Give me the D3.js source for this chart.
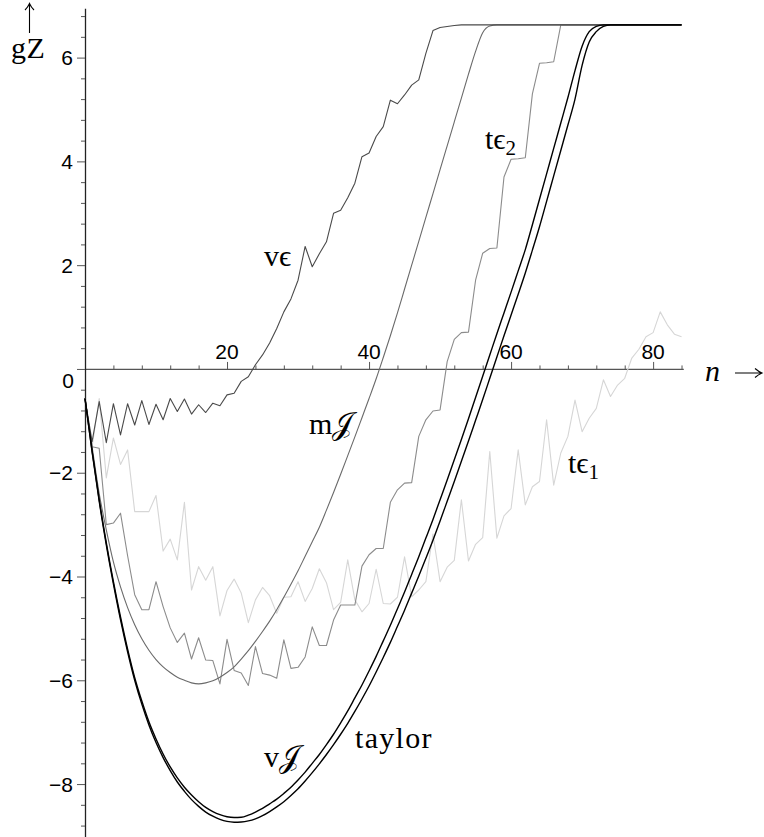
<!DOCTYPE html>
<html>
<head>
<meta charset="utf-8">
<script src="https://cdn.jsdelivr.net/npm/d3@7"></script>
<style>
  html, body { margin: 0; padding: 0; background: #fff; }
  svg { display: block; }
  .tick-label { font-family: "Liberation Sans", Arial, sans-serif; font-size: 21px; fill: #000; }
  .curve-label { font-family: "Liberation Serif", "DejaVu Serif", serif; font-size: 30px; fill: #000; }
</style>
</head>
<body>
<svg id="chart" width="764" height="837"></svg>
<script>
// n = 0, 1, 2, ... 84 for every series
const vEps = [-0.57, -1.40, -0.63, -1.42, -0.67, -1.27, -0.67, -1.08, -0.61, -1.07,
  -0.68, -0.98, -0.57, -0.82, -0.58, -0.87, -0.69, -0.84, -0.66, -0.71,
  -0.50, -0.47, -0.24, -0.15, 0.08, 0.27, 0.50, 0.78, 1.10, 1.35,
  1.71, 2.36, 1.97, 2.22, 2.45, 3.00, 3.06, 3.30, 3.58, 4.09,
  4.16, 4.48, 4.67, 5.18, 5.11, 5.28, 5.47, 5.57, 6.08, 6.52,
  6.58, 6.60, 6.62, 6.63, 6.63, 6.63, 6.63, 6.63, 6.63, 6.63,
  6.63, 6.63, 6.63, 6.63, 6.63, 6.63, 6.63, 6.63, 6.63, 6.63,
  6.63, 6.63, 6.63, 6.63, 6.63, 6.63, 6.63, 6.63, 6.63, 6.63,
  6.63, 6.63, 6.63, 6.63, 6.63];

const tEps2 = [-0.57, -1.50, -1.53, -3.00, -2.97, -2.78, -3.60, -4.35, -4.64, -4.64,
  -4.10, -4.58, -4.99, -5.27, -5.09, -5.59, -5.18, -5.61, -5.62, -6.07,
  -5.21, -5.81, -5.86, -6.10, -5.35, -5.87, -5.90, -5.96, -5.22, -5.77,
  -5.75, -5.55, -4.97, -5.33, -5.33, -4.84, -4.55, -4.55, -4.55, -3.80,
  -3.58, -3.46, -3.46, -2.57, -2.33, -2.20, -2.19, -1.30, -0.98, -0.81,
  -0.79, 0.14, 0.57, 0.70, 0.71, 1.71, 2.23, 2.32, 2.33, 3.70,
  4.04, 4.05, 4.07, 5.30, 5.89, 5.90, 5.92, 6.63, 6.63, 6.63,
  6.63, 6.63, 6.63, 6.63, 6.63, 6.63, 6.63, 6.63, 6.63, 6.63,
  6.63, 6.63, 6.63, 6.63, 6.63];

const tEps1 = [-0.57, -1.50, -0.57, -2.10, -1.33, -1.84, -1.56, -2.75, -2.75, -2.75,
  -2.44, -3.51, -3.28, -3.68, -2.57, -4.26, -3.81, -4.07, -3.81, -4.76,
  -4.27, -4.05, -4.32, -4.89, -4.45, -4.21, -4.37, -4.71, -4.40, -4.39,
  -4.10, -4.48, -4.23, -3.85, -4.12, -4.64, -4.50, -3.68, -4.45, -4.68,
  -4.52, -3.86, -4.52, -4.53, -4.40, -3.62, -4.39, -4.26, -4.10, -3.18,
  -4.10, -3.82, -3.69, -2.52, -3.70, -3.38, -3.25, -1.59, -3.26, -2.83,
  -2.69, -1.56, -2.62, -2.27, -2.17, -0.98, -2.24, -1.62, -1.30, -0.60,
  -1.21, -0.95, -0.76, -0.21, -0.53, -0.31, -0.18, 0.21, 0.38, 0.62,
  0.70, 1.10, 0.85, 0.67, 0.62];

const mJ = [-0.57, -1.50, -2.40, -3.10, -3.72, -4.20, -4.60, -4.93, -5.20, -5.42,
  -5.60, -5.74, -5.85, -5.94, -6.00, -6.05, -6.07, -6.05, -6.01, -5.94,
  -5.85, -5.74, -5.59, -5.43, -5.25, -5.06, -4.86, -4.64, -4.40, -4.15,
  -3.89, -3.61, -3.33, -3.05, -2.72, -2.38, -2.03, -1.67, -1.31, -0.94,
  -0.57, -0.19, 0.22, 0.64, 1.08, 1.54, 2.00, 2.46, 2.92, 3.38,
  3.84, 4.30, 4.76, 5.22, 5.68, 6.12, 6.48, 6.61, 6.63, 6.63,
  6.63, 6.63, 6.63, 6.63, 6.63, 6.63, 6.63, 6.63, 6.63, 6.63,
  6.63, 6.63, 6.63, 6.63, 6.63, 6.63, 6.63, 6.63, 6.63, 6.63,
  6.63, 6.63, 6.63, 6.63, 6.63];

const vJ = [-0.57, -1.58, -2.52, -3.35, -4.10, -4.78, -5.40, -5.95, -6.40, -6.80,
  -7.13, -7.42, -7.67, -7.88, -8.06, -8.21, -8.34, -8.45, -8.53, -8.59,
  -8.63, -8.645, -8.64, -8.60, -8.54, -8.47, -8.38, -8.29, -8.18, -8.06,
  -7.92, -7.77, -7.60, -7.43, -7.24, -7.04, -6.82, -6.59, -6.34, -6.09,
  -5.82, -5.54, -5.24, -4.94, -4.62, -4.30, -3.96, -3.62, -3.26, -2.90,
  -2.52, -2.14, -1.75, -1.36, -0.96, -0.55, -0.14, 0.27, 0.68, 1.08,
  1.48, 1.89, 2.30, 2.78, 3.27, 3.76, 4.25, 4.74, 5.23, 5.75,
  6.22, 6.50, 6.60, 6.63, 6.63, 6.63, 6.63, 6.63, 6.63, 6.63,
  6.63, 6.63, 6.63, 6.63, 6.63];

const taylor = [-0.57, -1.60, -2.55, -3.39, -4.14, -4.83, -5.45, -6.00, -6.46, -6.86,
  -7.20, -7.49, -7.74, -7.96, -8.14, -8.30, -8.43, -8.54, -8.62, -8.68,
  -8.72, -8.735, -8.73, -8.71, -8.67, -8.61, -8.53, -8.44, -8.34, -8.22,
  -8.09, -7.94, -7.78, -7.61, -7.43, -7.24, -7.04, -6.83, -6.60, -6.36,
  -6.11, -5.84, -5.56, -5.27, -4.96, -4.65, -4.32, -3.99, -3.65, -3.30,
  -2.93, -2.55, -2.17, -1.78, -1.39, -0.99, -0.59, -0.18, 0.23, 0.64,
  1.04, 1.44, 1.85, 2.29, 2.74, 3.23, 3.72, 4.21, 4.70, 5.20,
  5.85, 6.30, 6.50, 6.60, 6.63, 6.63, 6.63, 6.63, 6.63, 6.63,
  6.63, 6.63, 6.63, 6.63, 6.63];

const xMajorTicks = [20, 40, 60, 80];
const yMajorTicks = [-8, -6, -4, -2, 0, 2, 4, 6];

const svg = d3.select("#chart");

const x = d3.scaleLinear().domain([0, 84.25]).range([85, 683.3]);
const y = d3.scaleLinear().domain([-9.02, 6.95]).range([837, 8.3]);

// ---- axes ----
const xMinor = d3.range(4, 84.1, 4);
const yMinor = d3.range(-8.8, 6.81, 0.4).map(v => Math.round(v * 10) / 10);

const xAxis = d3.axisTop(x)
  .tickValues(xMinor)
  .tickSizeInner(0).tickSizeOuter(0)
  .tickFormat("");
const xg = svg.append("g").attr("transform", `translate(0,${y(0)})`).call(xAxis);
xg.select(".domain").attr("stroke", "#555").attr("stroke-width", 1.3);
xg.selectAll(".tick line")
  .attr("stroke", "#555")
  .attr("y1", 1)
  .attr("y2", d => xMajorTicks.includes(d) ? -7 : -3.5);

const yAxis = d3.axisLeft(y)
  .tickValues(yMinor)
  .tickSizeInner(0).tickSizeOuter(0)
  .tickFormat("");
const yg = svg.append("g").attr("transform", `translate(${x(0)},0)`).call(yAxis);
yg.select(".domain").attr("stroke", "#222").attr("stroke-width", 1.3);
yg.selectAll(".tick line")
  .attr("stroke", "#555")
  .attr("x2", d => yMajorTicks.includes(Math.round(d * 10) / 10) && Math.abs(d - Math.round(d)) < 1e-6 ? -8 : -4);

// tick labels
svg.append("g").selectAll("text")
  .data(xMajorTicks).join("text")
  .attr("class", "tick-label")
  .attr("x", d => x(d))
  .attr("y", y(0) - 10)
  .attr("text-anchor", "middle")
  .text(d => d);

svg.append("g").selectAll("text")
  .data(yMajorTicks).join("text")
  .attr("class", "tick-label")
  .attr("x", d => d === 0 ? 74 : 73)
  .attr("y", d => d === 0 ? y(0) + 19 : y(d) + 7.5)
  .attr("text-anchor", "end")
  .text(d => d < 0 ? "\u2212" + Math.abs(d) : String(d));

// ---- series ----
const smooth = d3.line().x((d, i) => x(i)).y(d => y(d)).curve(d3.curveMonotoneX);
const jagged = d3.line().x((d, i) => x(i)).y(d => y(d));

const series = [
  { values: tEps1, line: jagged, color: "#d6d6d6", width: 1.1 },
  { values: tEps2, line: jagged, color: "#8c8c8c", width: 1.1 },
  { values: mJ,    line: smooth, color: "#6a6a6a", width: 1.1 },
  { values: vEps,  line: jagged, color: "#4a4a4a", width: 1.1 },
  { values: taylor, line: smooth, color: "#000", width: 1.4 },
  { values: vJ,    line: smooth, color: "#000", width: 1.4 }
];

svg.append("g").selectAll("path")
  .data(series).join("path")
  .attr("fill", "none")
  .attr("stroke", d => d.color)
  .attr("stroke-width", d => d.width)
  .attr("stroke-linejoin", "round")
  .attr("d", d => d.line(d.values));

// ---- curve labels ----
const labels = svg.append("g").attr("class", "curve-label");
labels.append("text").attr("x", 264).attr("y", 266).text("v\u03F5");
labels.append("text").attr("x", 309).attr("y", 434).text("m\uD835\uDCA5");
labels.append("text").attr("x", 264).attr("y", 767).text("v\uD835\uDCA5");
labels.append("text").attr("x", 355).attr("y", 748).attr("letter-spacing", 1.3).text("taylor");

const te2 = labels.append("text").attr("x", 485).attr("y", 149);
te2.append("tspan").text("t\u03F5");
te2.append("tspan").attr("dy", 6).attr("font-size", 21).text("2");

const te1 = labels.append("text").attr("x", 568).attr("y", 473);
te1.append("tspan").text("t\u03F5");
te1.append("tspan").attr("dy", 6).attr("font-size", 21).text("1");

// axis names
labels.append("text").attr("x", 11).attr("y", 58).attr("letter-spacing", 0.5).text("gZ");
labels.append("text").attr("x", 705).attr("y", 381).attr("font-style", "italic").text("n");

// arrows beside the axis names
const arrow = svg.append("g").attr("fill", "none").attr("stroke", "#000").attr("stroke-width", 1.1);
arrow.append("path").attr("d", "M29.5,33 L29.5,3.5 M25,10 Q28,7 29.5,3.5 Q31,7 34,10");
arrow.append("path").attr("d", "M735,373 L762,373 M755,368.5 Q758.5,371.5 762,373 Q758.5,374.5 755,377.5");
</script>
</body>
</html>
